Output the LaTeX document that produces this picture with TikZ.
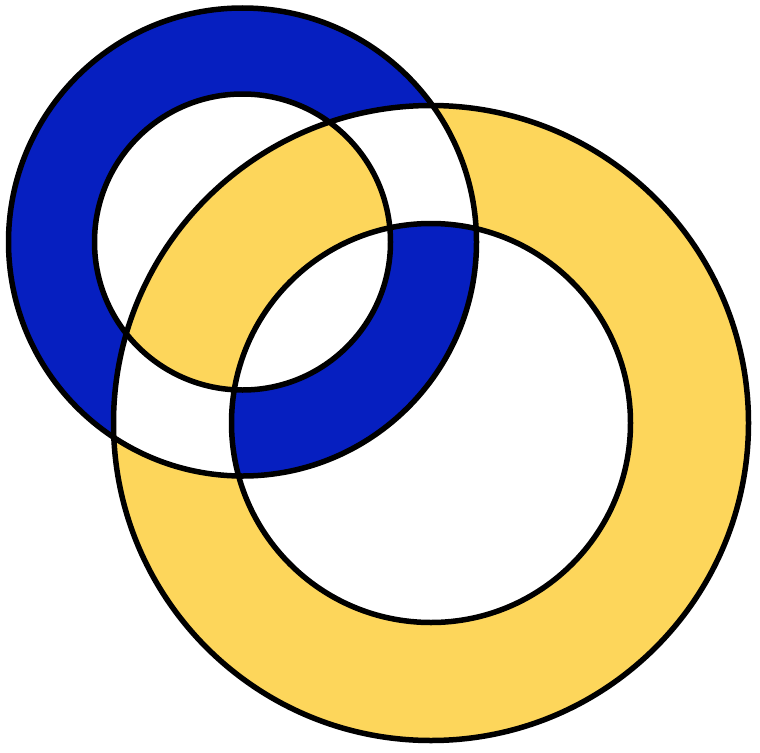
\documentclass[tikz,border=0pt]{standalone}
\definecolor{ringblue}{RGB}{6,31,192}
\definecolor{ringyellow}{RGB}{253,214,91}
\begin{document}
\begin{tikzpicture}[x=1pt,y=-1pt,
  ringline/.style={draw=black,line width=5.5pt}]
\useasboundingbox (0,0) rectangle (760,752);
\coordinate (B) at (242.5,242);
\coordinate (Y) at (431,423);
\def\blueouter{(B) circle[radius=234] (B) circle[radius=148]}
\def\yellowring{(Y) circle[radius=317.5] (Y) circle[radius=199.5]}
% blue annulus
\fill[ringblue,even odd rule] (B) circle[radius=234] (B) circle[radius=148];
% yellow annulus
\fill[ringyellow,even odd rule] (Y) circle[radius=317.5] (Y) circle[radius=199.5];
% overlap of both annuli -> white
\begin{scope}
  \clip (B) circle[radius=234];
  \fill[white,even odd rule] (Y) circle[radius=317.5] (Y) circle[radius=199.5];
\end{scope}
\begin{scope}
  \clip (B) circle[radius=148];
  \fill[ringyellow,even odd rule] (Y) circle[radius=317.5] (Y) circle[radius=199.5];
\end{scope}
% outlines
\draw[ringline] (B) circle[radius=234];
\draw[ringline] (B) circle[radius=148];
\draw[ringline] (Y) circle[radius=317.5];
\draw[ringline] (Y) circle[radius=199.5];
\end{tikzpicture}
\end{document}
